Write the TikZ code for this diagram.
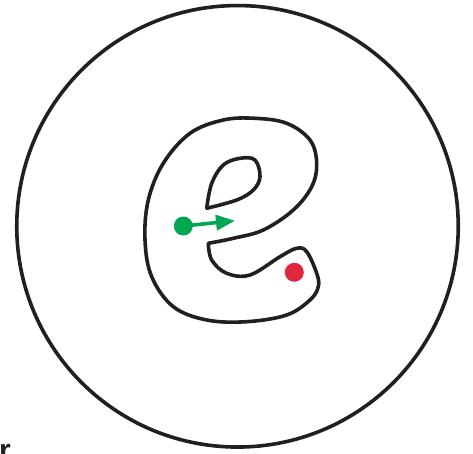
\documentclass[tikz,border=0pt]{standalone}
\usepackage{fontspec}
\setsansfont{Liberation Sans}
\usepackage{xcolor}
\definecolor{Ink}{HTML}{231F20}
\definecolor{Leaf}{HTML}{00A651}
\definecolor{Ruby}{HTML}{E0253F}
\usetikzlibrary{arrows.meta,positioning}

\begin{document}
\begin{tikzpicture}[
  x=1pt,y=-1pt,
  outline/.style={draw=Ink,line width=3.6pt,line join=round,line cap=round},
  dot/.style={circle,inner sep=0pt,minimum size=19pt},
  push/.style={-{Triangle[length=19pt,width=15pt]},line width=3.6pt,draw=Leaf}
]
\useasboundingbox (0,0) rectangle (473,454);
% disc
\node[outline,circle,inner sep=0pt,minimum size=441.5pt] (disc) at (237.5,226.3) {};
% the e-shaped region, outer rim
\draw[outline] plot[smooth,tension=0.6] coordinates {
  (208.3,243.3) (211.7,260) (226.7,273.3) (250,275) (280,256.7)
  (296.7,248.3) (306.7,251.7) (316.7,273.3) (318.3,286.7) (310,300)
  (286.7,315) (246.7,321.7) (206.7,320) (173.3,306.7) (151.7,276.7)
  (145,240) (148.3,200) (163.3,163.3) (190,133.3) (223.3,120)
  (255,118.3) (286.7,123.3) (310,140) (316.7,163.3) (311.7,186.7)
  (293.3,210) (263.3,230) (233.3,238.3) (208.3,243.3)};
% hole
\draw[outline] plot[smooth,tension=0.6] coordinates {
  (206.7,208.3) (211.7,183.3) (223.3,165) (240,158.3) (255,160)
  (260,176.7) (253.3,190) (236.7,200) (206.7,208.3)};
% particles
\node[dot,fill=Leaf] (gdot) at (183.3,226) {};
\coordinate (tip) at (235,220.7);
\draw[push] (gdot.center) -- (tip);
\node[dot,fill=Ruby] (rdot) at (294.3,272.3) {};
\node[anchor=north west,inner sep=0pt,text=Ink,font=\sffamily\bfseries\fontsize{30}{30}\selectfont] (rlab) at (-1,444) {r};
\end{tikzpicture}
\end{document}
